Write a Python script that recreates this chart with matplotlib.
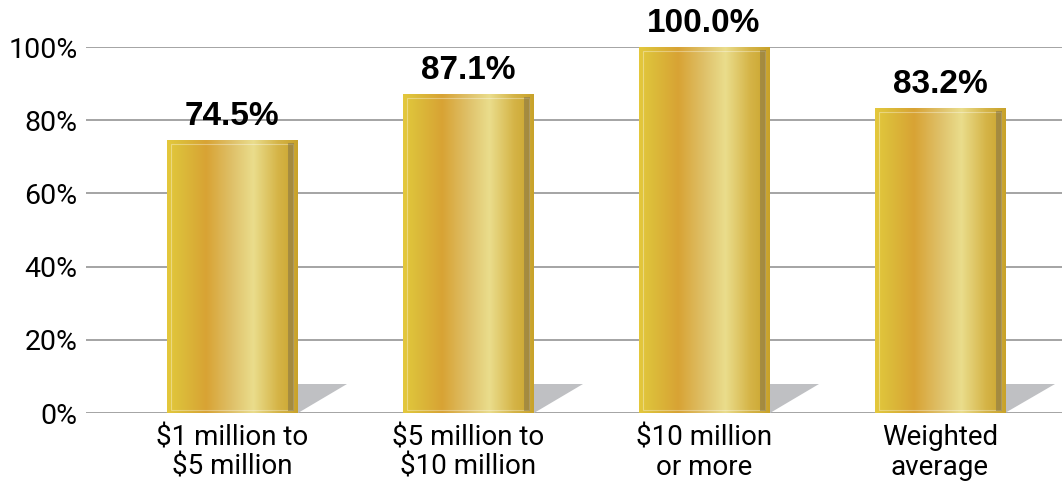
import matplotlib.pyplot as plt
import numpy as np
from matplotlib.colors import LinearSegmentedColormap
from matplotlib.patches import Polygon, Rectangle

plt.rcParams['font.family'] = ['Roboto', 'DejaVu Sans']

categories = ['$1 million to\n$5 million', '$5 million to\n$10 million',
              '$10 million\nor more', 'Weighted\naverage']
values = [74.5, 87.1, 100.0, 83.2]
labels = ['74.5%', '87.1%', '100.0%', '83.2%']
yticks = [0, 20, 40, 60, 80, 100]

gold = LinearSegmentedColormap.from_list('gold', [
    (0.00, '#e4c83c'),
    (0.10, '#dcbd3a'),
    (0.30, '#d8a334'),
    (0.50, '#dfc16a'),
    (0.66, '#eadd8c'),
    (0.85, '#d5b447'),
    (1.00, '#c8a22a'),
])

fig = plt.figure(figsize=(10.62, 4.82), dpi=100)
ax = fig.add_axes([86 / 1062, 69 / 482, 976 / 1062, 366 / 482])

width = 0.555
x = np.arange(len(values))
grad = np.linspace(0, 1, 256).reshape(1, -1)

for xi, v, lab in zip(x, values, labels):
    left, right = xi - width / 2, xi + width / 2
    # shadow wedge at the foot of each bar
    ax.add_patch(Polygon([(right, 0), (right, 7.9), (right + 0.21, 7.9)],
                         closed=True, facecolor='#bfc0c3', edgecolor='none', zorder=2))
    im = ax.imshow(grad, cmap=gold, extent=(left, right, 0, v), aspect='auto', zorder=3)
    clip = Rectangle((left, 0), width, v, transform=ax.transData)
    im.set_clip_path(clip)
    # inner highlight frame and darker right strip
    ax.add_patch(Rectangle((left + 0.02, 0.8), width - 0.04, v - 1.8, fill=False,
                           edgecolor='white', alpha=0.35, lw=0.8, zorder=4))
    ax.add_patch(Rectangle((right - 0.04, 0.5), 0.025, v - 1.3, facecolor='#7d6f4a',
                           alpha=0.5, edgecolor='none', zorder=4))
    ax.annotate(lab, (xi, v), xytext=(0, 6), textcoords='offset points',
                ha='center', va='bottom', fontsize=24, fontweight='bold',
                family=['Liberation Sans', 'DejaVu Sans'], annotation_clip=False)

ax.set_xlim(-0.619, 3.517)
ax.set_ylim(0, 100)
ax.set_yticks(yticks)
ax.set_yticklabels([f'{t}%' for t in yticks], fontsize=20.5)
ax.set_xticks(x)
ax.set_xticklabels(categories, fontsize=20, linespacing=1.12)
ax.tick_params(axis='x', length=0, pad=8)
ax.tick_params(axis='y', length=0, pad=6)
ax.yaxis.grid(True, color='#8c8c8c', lw=1.1)
ax.set_axisbelow(True)
for s in ax.spines.values():
    s.set_visible(False)

fig.savefig('out.png', dpi=100)
